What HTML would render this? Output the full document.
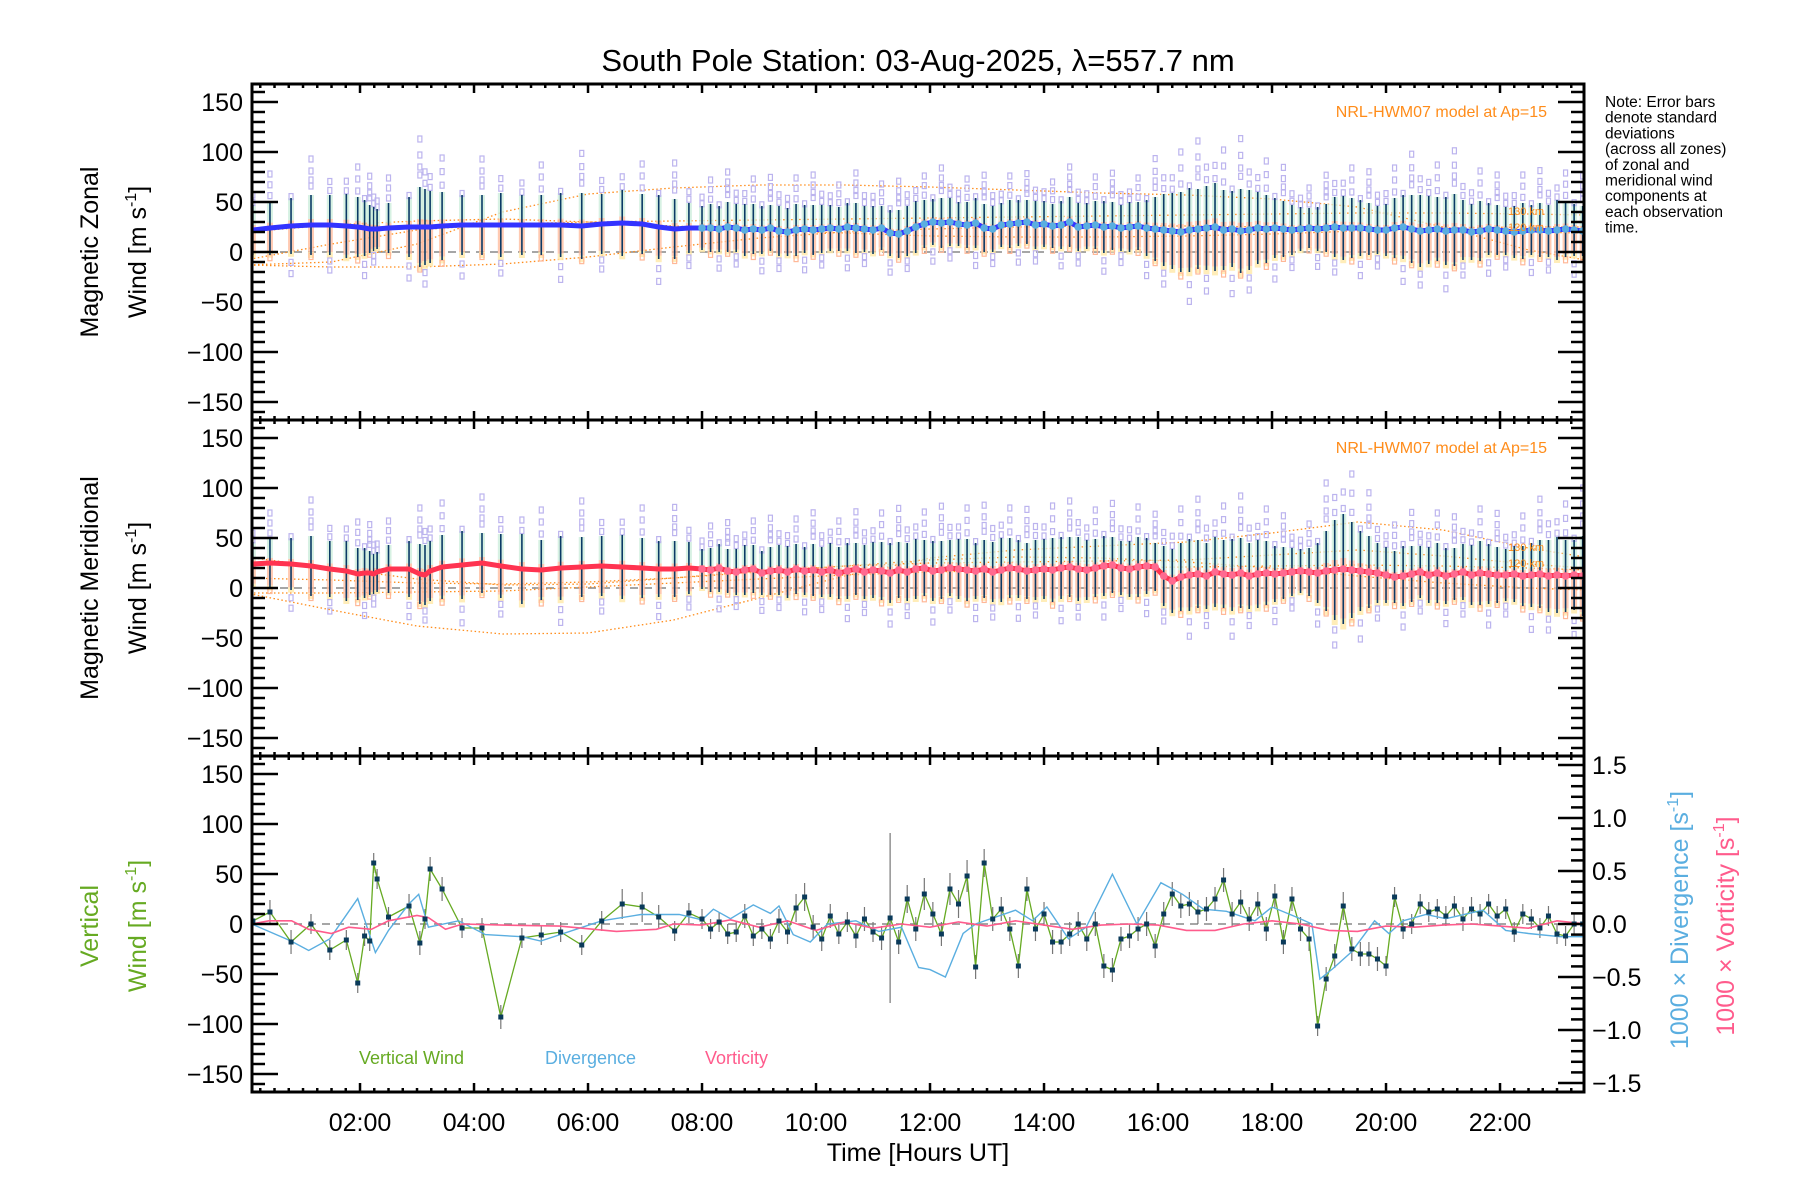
<!DOCTYPE html>
<html>
<head>
<meta charset="utf-8">
<style>
html,body{margin:0;padding:0;background:#fff;}
svg{display:block;font-family:"Liberation Sans",sans-serif;}
</style>
</head>
<body>
<svg id="chart" width="1800" height="1200" viewBox="0 0 1800 1200" xmlns="http://www.w3.org/2000/svg">
<text x="918" y="71" font-size="31" text-anchor="middle" fill="#000">South Pole Station: 03-Aug-2025, λ=557.7 nm</text>
<g font-size="15.5" fill="#000">
<text x="1605" y="107">Note: Error bars</text>
<text x="1605" y="122.7">denote standard</text>
<text x="1605" y="138.4">deviations</text>
<text x="1605" y="154.1">(across all zones)</text>
<text x="1605" y="169.8">of zonal and</text>
<text x="1605" y="185.5">meridional wind</text>
<text x="1605" y="201.2">components at</text>
<text x="1605" y="216.9">each observation</text>
<text x="1605" y="232.6">time.</text>
</g>
<g font-size="25" text-anchor="middle">
<text transform="translate(98,252) rotate(-90)">Magnetic Zonal</text>
<text transform="translate(146,252) rotate(-90)">Wind [m s<tspan font-size="16" dy="-10">-1</tspan><tspan dy="10">]</tspan></text>
</g>
<g font-size="25" text-anchor="middle">
<text transform="translate(98,588) rotate(-90)">Magnetic Meridional</text>
<text transform="translate(146,588) rotate(-90)">Wind [m s<tspan font-size="16" dy="-10">-1</tspan><tspan dy="10">]</tspan></text>
</g>
<g font-size="25" text-anchor="middle" fill="#66aa22">
<text transform="translate(98,926) rotate(-90)">Vertical</text>
<text transform="translate(146,926) rotate(-90)">Wind [m s<tspan font-size="16" dy="-10">-1</tspan><tspan dy="10">]</tspan></text>
</g>
<text font-size="25" text-anchor="middle" fill="#5aaee0" transform="translate(1688,920) rotate(-90)">1000 × Divergence [s<tspan font-size="16" dy="-10">-1</tspan><tspan dy="10">]</tspan></text>
<text font-size="25" text-anchor="middle" fill="#ff5b8c" transform="translate(1734,926) rotate(-90)">1000 × Vorticity [s<tspan font-size="16" dy="-10">-1</tspan><tspan dy="10">]</tspan></text>
<text x="918" y="1161" font-size="25" text-anchor="middle">Time [Hours UT]</text>
<text x="359" y="1064" font-size="18" fill="#66aa22">Vertical Wind</text>
<text x="545" y="1064" font-size="18" fill="#5aaee0">Divergence</text>
<text x="705" y="1064" font-size="18" fill="#ff5b8c">Vorticity</text>
<text x="1547" y="117" font-size="16" text-anchor="end" fill="#ff8c1a">NRL-HWM07 model at Ap=15</text>
<text x="1547" y="453" font-size="16" text-anchor="end" fill="#ff8c1a">NRL-HWM07 model at Ap=15</text>
</svg>
<script>
const obsTimes = [0.12,0.42,0.79,1.14,1.47,1.76,1.96,2.08,2.17,2.24,2.30,2.50,2.86,3.05,3.14,3.23,3.44,3.79,4.14,4.47,4.84,5.18,5.52,5.89,6.24,6.60,6.95,7.24,7.52,7.77,
8.00,8.15,8.30,8.45,8.60,8.75,8.90,9.05,9.20,9.35,9.50,9.65,9.80,9.95,10.10,10.25,10.40,10.55,10.70,10.85,11.00,11.15,11.30,11.45,11.60,11.75,11.90,12.05,12.20,12.35,12.50,12.65,12.80,12.95,13.10,13.25,13.40,13.55,13.70,13.85,14.00,14.15,14.30,14.45,14.60,14.75,14.90,15.05,15.20,15.35,15.50,15.65,15.80,15.95,16.10,16.25,16.40,16.55,16.70,16.85,17.00,17.15,17.30,17.45,17.60,17.75,17.90,18.05,18.20,18.35,18.50,18.65,18.80,18.95,19.10,19.25,19.40,19.55,19.70,19.85,20.00,20.15,20.30,20.45,20.60,20.75,20.90,21.05,21.20,21.35,21.50,21.65,21.80,21.95,22.10,22.25,22.40,22.55,22.70,22.85,23.00,23.15,23.30,23.45];
const zonalWind = [22,24,26,27,27,26,25,24,23,23,23,24,25,25,25,25,26,27,27,27,27,27,27,26,28,29,28,25,23,24,
24,24,23,25,24,22,23,22,24,21,20,22,23,22,
23,24,23,25,24,23,22,24,19,18,21,25,28,
30,29,30,28,27,29,24,23,27,28,29,30,27,
28,26,27,30,25,26,27,25,26,24,25,26,24,23,
22,21,20,22,23,24,25,22,23,21,22,24,23,
24,23,22,23,24,23,24,25,24,24,24,23,22,
22,24,25,23,21,22,23,21,22,22,20,21,23,22,
21,20,21,22,22,21,22,23,22,21];
const zonalSd = [25,27,28,30,30,32,30,28,24,22,20,25,30,40,38,36,34,30,30,32,30,30,32,33,30,33,30,32,30,25,
22,24,23,25,24,26,25,24,23,25,24,26,24,25,
24,23,22,24,25,23,24,22,23,24,25,26,24,
23,25,24,22,23,25,24,23,22,24,23,22,24,
23,22,24,25,24,23,24,26,24,23,25,24,28,32,
36,38,40,42,40,42,44,40,38,42,40,36,34,
30,28,25,22,20,22,24,30,32,30,28,26,24,
26,30,32,34,36,34,32,34,36,30,28,30,26,25,
24,26,28,25,27,26,30,28,26,25];
const meridWind = [24,25,24,22,19,17,14,15,15,14,16,19,19,14,13,17,21,23,25,22,19,18,20,21,22,21,20,19,19,20,
19,18,20,17,16,18,19,15,17,18,16,19,17,18,
16,18,15,17,19,16,18,17,15,18,16,19,20,
17,18,20,19,18,17,19,16,18,20,19,17,18,
19,18,20,21,19,18,20,22,23,20,19,21,22,21,
12,7,11,13,14,12,16,14,13,15,12,14,15,
14,15,16,17,16,15,17,18,19,18,17,16,15,
13,11,12,14,16,13,15,12,14,16,13,15,14,13,
13,14,12,13,14,12,13,12,13,12];
const meridSd = [22,25,26,30,28,30,26,25,22,20,20,24,28,30,30,30,32,34,30,32,35,30,32,30,30,32,30,28,28,26,
20,22,24,22,23,25,24,22,24,25,26,25,24,26,
25,27,26,28,26,27,28,29,30,28,29,30,28,
30,29,28,30,31,28,29,30,32,30,29,28,30,
30,32,31,30,32,30,29,30,28,27,28,30,28,24,
30,32,34,36,34,33,35,34,36,35,33,34,32,
28,26,24,22,24,30,40,50,55,48,40,36,30,
28,26,30,28,26,28,30,28,26,28,30,32,30,28,
26,28,30,32,34,36,38,36,35,40];
const verticalWind = [3,12,-18,0,-26,-16,-59,-12,-17,61,45,7,18,-19,5,55,35,-4,-4,-93,-14,-11,-8,-21,3,20,17,7,-7,11,
5,-5,2,-10,-8,8,-12,-5,-15,3,-8,16,27,-3,
-15,8,-10,2,-12,5,-8,-14,6,-18,25,-5,30,
10,-10,35,20,48,-43,61,5,15,-5,-42,35,-5,
10,-18,-18,-10,0,-15,0,-42,-46,-15,-12,-5,0,-22,
10,30,18,20,12,15,25,44,10,22,5,20,-5,
28,-18,25,-5,-15,-102,-55,-32,18,-25,-30,-30,-35,
-42,27,-5,0,20,12,15,8,18,5,15,10,20,8,
15,-8,10,5,-4,8,-10,-12,0,0];
const verticalSd = [12,12,12,10,10,10,10,10,10,10,10,10,12,12,10,12,12,10,10,12,10,10,10,10,10,15,15,12,10,10,
10,10,10,10,10,12,10,10,10,12,12,14,14,12,
12,12,10,10,12,12,10,12,85,12,14,12,16,
12,12,16,14,16,12,14,12,12,12,12,12,12,
12,12,12,12,12,12,12,12,12,12,12,12,12,12,
12,12,12,12,12,12,12,12,12,12,12,12,12,
12,12,12,12,12,10,12,12,14,12,12,12,12,
10,10,10,10,10,10,10,10,10,12,12,10,10,10,
10,10,10,10,10,10,10,10,10,10];
const divTimes = [0.1,0.79,1.1,1.47,1.96,2.27,2.5,2.86,3.03,3.2,3.73,4.2,4.84,5.17,6.24,6.93,7.6,8.0,8.2,8.5,8.9,9.2,9.35,9.6,9.9,10.2,10.7,11.1,11.5,11.8,12.0,12.27,12.58,12.8,13.5,13.8,14.05,14.43,14.74,15.2,15.63,16.05,16.43,16.8,17.2,17.7,18.0,18.45,18.7,18.84,19.07,19.4,19.8,20.05,20.3,20.7,21.05,21.7,22.1,22.5,23.05,23.5];
const divergence = [0.0,-0.16,-0.25,-0.14,0.24,-0.27,-0.06,0.19,0.28,-0.03,0.03,-0.1,-0.12,-0.16,0.03,0.09,0.09,0.04,0.14,0.05,0.18,0.1,0.17,-0.1,-0.17,0.0,0.03,-0.07,-0.03,-0.41,-0.43,-0.5,-0.09,0.0,0.13,0.03,0.16,-0.14,-0.03,0.47,0.0,0.39,0.28,0.14,0.12,0.03,0.16,0.06,0.0,-0.52,-0.42,-0.26,0.03,-0.09,0.03,0.09,0.05,0.13,-0.06,-0.09,-0.12,-0.12];
const vortTimes = [0.1,0.4,0.8,1.1,1.5,1.8,2.2,2.5,3.0,3.2,3.5,3.8,4.5,5.5,6.5,7.2,7.5,8.0,8.5,9.0,9.5,10.0,10.5,11.0,11.5,12.0,12.5,13.0,13.5,14.0,14.5,15.0,15.5,16.0,16.5,17.0,17.5,18.0,18.5,19.0,19.5,20.0,20.5,21.0,21.5,22.0,22.5,23.0,23.5];
const vorticity = [0.0,0.03,0.03,-0.05,-0.09,-0.03,-0.05,0.03,0.08,0.06,-0.05,0.0,-0.01,-0.02,-0.07,-0.05,0.0,-0.01,0.04,-0.03,0.03,-0.06,0.02,-0.04,0.0,-0.03,0.02,-0.02,0.03,-0.01,-0.05,-0.01,0.0,-0.01,-0.06,-0.06,0.0,0.03,0.0,-0.06,-0.07,-0.02,-0.03,-0.01,0.0,-0.02,-0.04,0.03,0.0];
const modelTimes = [0,1.5,3,4.5,6,7.5,9,10.5,12,13.5,15,16.5,18,19.5,21,22.5,23.5];
const zonalModelA = [-13,-10,8,40,58,64,67,67,65,62,59,57,53,45,25,2,-8];
const zonalModelB = [-13,-15,-15,-12,-5,5,14,20,23,25,26,26,25,24,22,20,19];
const zonalModelC = [20,27,31,33,30,26,22,19,16,15,15,16,18,21,24,25,25];
const zonalModelD = [-8,8,22,28,30,31,32,33,34,35,36,37,38,39,39,38,37];
const meridModelA = [-5,-22,-38,-46,-45,-32,-10,12,30,38,42,46,55,66,58,40,31];
const meridModelB = [31,20,9,3,4,10,17,22,25,26,27,28,33,38,32,24,20];
const meridModelC = [-5,-5,-4,-3,1,5,9,13,16,18,20,21,22,23,22,20,18];
const meridModelD = [10,8,5,4,6,10,16,22,28,31,30,26,20,12,5,0,-2];
const xTickLabels = ["02:00","04:00","06:00","08:00","10:00","12:00","14:00","16:00","18:00","20:00","22:00"];
const xTickHours = [2,4,6,8,10,12,14,16,18,20,22];
const yTickValues = [150,100,50,0,-50,-100,-150];
const rightTickValues = [1.5,1.0,0.5,0.0,-0.5,-1.0,-1.5];

const NS = "http://www.w3.org/2000/svg";
const svg = document.getElementById("chart");
const X0 = 252, X1 = 1584, T0 = 0.105, PXH = 57;
const panelTops = [84, 420, 756];
const PH = 336;
function xS(t){ return X0 + (t - T0) * PXH; }
function yS(p, v){ return panelTops[p] + PH/2 - v; }
function yR(v){ return 924 - v * 106; }
function mk(tag, attrs, parent){
  const e = document.createElementNS(NS, tag);
  for (const k in attrs) e.setAttribute(k, attrs[k]);
  (parent || svg).appendChild(e);
  return e;
}

const defs = mk("defs", {});
for (let p = 0; p < 3; p++) {
  const cp = mk("clipPath", {id: "clip" + p}, defs);
  mk("rect", {x: X0, y: panelTops[p], width: X1 - X0, height: PH}, cp);
}

function zeroLine(p, g){
  const l = mk("line", {x1: X0, x2: X1, y1: yS(p,0), y2: yS(p,0), stroke: "#888", "stroke-width": 1.5, "stroke-dasharray": "8,6"}, g);
  
  
}
function modelCurve(p, vals, g){
  let pts = modelTimes.map((t,i) => xS(t).toFixed(1) + "," + yS(p, vals[i]).toFixed(1)).join(" ");
  const l = mk("polyline", {points: pts, fill: "none", stroke: "#ff8c1a", "stroke-width": 1.3, "stroke-dasharray": "1.5,2.5"}, g);
  
  
}
const upF = [[1.1,1.4],[1.2,1.6,2.0],[1.05],[1.3,1.5,1.8,2.2],[1.15,1.45]];
const loF = [[1.05],[1.2,1.5],[],[1.1],[1.3,1.7]];
function windPanel(p, mean, sd, fitColor, dotColor, models, nameBase){
  const g = mk("g", {"clip-path": "url(#clip" + p + ")"});
  
  
  zeroLine(p, g);
  models.forEach(m => modelCurve(p, m, g));
  obsTimes.forEach((t, i) => {
    const x = xS(t), m = mean[i], s = sd[i];
    const r1 = mk("rect", {x: x-3, y: yS(p, m + s*0.2), width: 6, height: s*1.1, fill: "#ffb898", opacity: 0.75}, g);
    
    
    const r3 = mk("rect", {x: x-3, y: yS(p, m - s*0.9), width: 6, height: s*0.2, fill: "#ffe8a8", opacity: 0.8}, g);
    
    
    const r2 = mk("rect", {x: x-3, y: yS(p, m + s), width: 6, height: s*0.8, fill: "#cdeedc", opacity: 0.8}, g);
    
    
    upF[i % 5].forEach(f => {
      const q = mk("rect", {x: x-2, y: yS(p, m + s*f) - 3, width: 4, height: 6, fill: "none", stroke: "#bcb4ee", "stroke-width": 1.2}, g);
      
      
    });
    loF[(i + 2) % 5].forEach(f => {
      const q = mk("rect", {x: x-2, y: yS(p, m - s*f) - 3, width: 4, height: 6, fill: "none", stroke: f > 1.15 ? "#bcb4ee" : "#ffb898", "stroke-width": 1.2}, g);
      
      
    });
    const eb = mk("line", {x1: x, x2: x, y1: yS(p, m - s), y2: yS(p, m + s), stroke: "#0b3a66", "stroke-width": 1.6}, g);
    
    
  });
  const pts = obsTimes.map((t,i) => xS(t).toFixed(1) + "," + yS(p, mean[i]).toFixed(1)).join(" ");
  const fit = mk("polyline", {points: pts, fill: "none", stroke: fitColor, "stroke-width": 5, "stroke-linejoin": "round"}, g);
  
  
  obsTimes.forEach((t, i) => {
    if (t < 8) return;
    const c = mk("circle", {cx: xS(t), cy: yS(p, mean[i]), r: 3.8, fill: dotColor}, g);
    
    
  });
  const k1 = mk("text", {x: 1508, y: yS(p, 37), "font-size": 11, fill: "#ff8c1a"}, g);
  
  
  k1.textContent = "130 km";
  const k2 = mk("text", {x: 1508, y: yS(p, 21), "font-size": 11, fill: "#ff8c1a"}, g);
  
  
  k2.textContent = "120 km";
}
windPanel(0, zonalWind, zonalSd, "#3333ff", "#5aaee0", [zonalModelA, zonalModelB, zonalModelC, zonalModelD], "zonal");
windPanel(1, meridWind, meridSd, "#ff3350", "#ff6a90", [meridModelA, meridModelB, meridModelC, meridModelD], "meridional");

const g3 = mk("g", {"clip-path": "url(#clip2)"});


zeroLine(2, g3);
obsTimes.forEach((t, i) => {
  const e = mk("line", {x1: xS(t), x2: xS(t), y1: yS(2, verticalWind[i]-verticalSd[i]), y2: yS(2, verticalWind[i]+verticalSd[i]), stroke: "#777", "stroke-width": 1.2}, g3);
  
  
});
const vw = mk("polyline", {points: obsTimes.map((t,i)=>xS(t).toFixed(1)+","+yS(2,verticalWind[i]).toFixed(1)).join(" "), fill: "none", stroke: "#66aa22", "stroke-width": 1.3}, g3);


const dv = mk("polyline", {points: divTimes.map((t,i)=>xS(t).toFixed(1)+","+yR(divergence[i]).toFixed(1)).join(" "), fill: "none", stroke: "#5aaee0", "stroke-width": 1.4}, g3);


const vt = mk("polyline", {points: vortTimes.map((t,i)=>xS(t).toFixed(1)+","+yR(vorticity[i]).toFixed(1)).join(" "), fill: "none", stroke: "#ff5b8c", "stroke-width": 1.6}, g3);


obsTimes.forEach((t, i) => {
  const s = mk("rect", {x: xS(t)-2.5, y: yS(2, verticalWind[i])-2.5, width: 5, height: 5, fill: "#0a3a5a"}, g3);
  
  
});

const ax = mk("g", {stroke: "#000"});


for (let p = 0; p < 3; p++) {
  const top = panelTops[p], bot = top + PH;
  const fr = mk("rect", {x: X0, y: top, width: X1 - X0, height: PH, fill: "none", "stroke-width": 3}, ax);
  
  
  for (let h = 0.25; h < 23.5; h += 0.25) {
    const x = xS(h);
    if (x <= X0 || x >= X1) continue;
    const major = Math.abs(h/2 - Math.round(h/2)) < 1e-6;
    const len = major ? 9 : 4;
    mk("line", {x1: x, x2: x, y1: bot, y2: bot - len, "stroke-width": 2.5}, ax);
    mk("line", {x1: x, x2: x, y1: top, y2: top + len, "stroke-width": 2.5}, ax);
  }
  for (let v = -160; v <= 160; v += 10) {
    const y = yS(p, v);
    const len = (v % 50 === 0) ? 26 : 13;
    mk("line", {x1: X0, x2: X0 + len, y1: y, y2: y, "stroke-width": 2.5}, ax);
    if (p < 2) mk("line", {x1: X1, x2: X1 - len, y1: y, y2: y, "stroke-width": 2.5}, ax);
  }
  yTickValues.forEach(v => {
    const tl = mk("text", {x: 243, y: yS(p, v) + 9, "font-size": 25, "text-anchor": "end", stroke: "none", fill: "#000"}, ax);
    
    
    tl.textContent = v < 0 ? "\u2212" + Math.abs(v) : String(v);
  });
}
for (let k = -15; k <= 15; k++) {
  const y = yR(k/10);
  if (y < 756 || y > 1092) continue;
  const len = (k % 5 === 0) ? 26 : 13;
  mk("line", {x1: X1, x2: X1 - len, y1: y, y2: y, "stroke-width": 2.5}, ax);
}
rightTickValues.forEach(v => {
  const tl = mk("text", {x: 1592, y: yR(v) + 9, "font-size": 25, stroke: "none", fill: "#000"}, ax);
  
  
  tl.textContent = (v < 0 ? "\u2212" : "") + Math.abs(v).toFixed(1);
});
xTickHours.forEach((h, i) => {
  const tl = mk("text", {x: xS(h), y: 1131, "font-size": 25, "text-anchor": "middle", stroke: "none", fill: "#000"}, ax);
  
  
  tl.textContent = xTickLabels[i];
});
</script>
</body>
</html>
